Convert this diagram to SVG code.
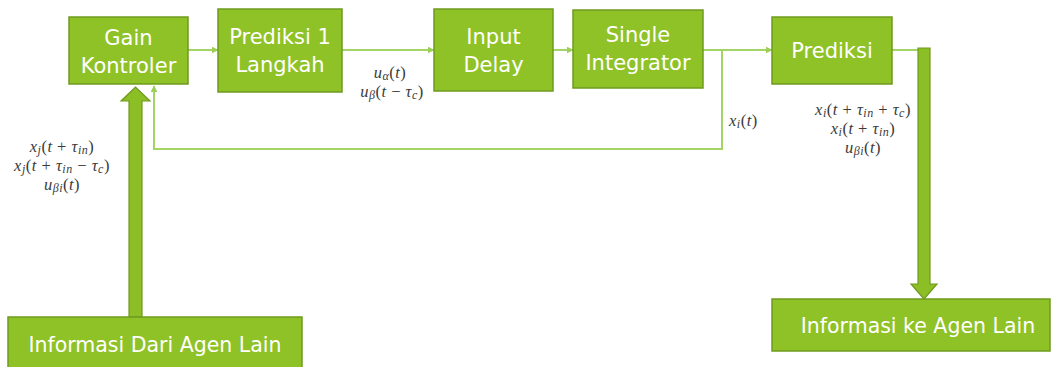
<svg xmlns="http://www.w3.org/2000/svg" width="1052" height="367" viewBox="0 0 1052 367">
  <defs>
    <marker id="tip" viewBox="0 0 10 10" refX="9" refY="5" markerWidth="7" markerHeight="7" markerUnits="userSpaceOnUse" orient="auto">
      <path d="M0,0 L10,5 L0,10 Z" fill="#9ccf55"/>
    </marker>
    <style>
      .box { fill: #8fc226; stroke: #6f9a1f; stroke-width: 1.5; }
      .lbl { font-family: "DejaVu Sans", "Liberation Sans", sans-serif; font-size: 21px; fill: #ffffff; text-anchor: middle; }
      .lbl2 { font-size: 20.5px; }
      .big { fill: #8cbf26; stroke: #6f9a1f; stroke-width: 1.2; }
      .wire { fill: none; stroke: #a3d466; stroke-width: 2; }
      .m { font-family: "Liberation Serif", "DejaVu Serif", serif; font-size: 16.5px; letter-spacing: 0.5px; fill: #3a3a3a; }
      .mc { text-anchor: middle; }
      .i { font-style: italic; }
      .s { font-size: 12px; font-style: italic; }
    </style>
  </defs>

  <!-- signal lines -->
  <g id="connectors">
    <path class="wire" d="M188,50 H218" marker-end="url(#tip)"/>
    <path class="wire" d="M342,50 H434" marker-end="url(#tip)"/>
    <path class="wire" d="M553,50 H573" marker-end="url(#tip)"/>
    <path class="wire" d="M703,50 H772" marker-end="url(#tip)"/>
    <path class="wire" d="M892,50 H918"/>
    <path class="wire" d="M722,50 V149 H154 V86" marker-end="url(#tip)"/>
    <!-- wide arrows to and from the other agents -->
    <path class="big" d="M129,317 V101 H121 L135.5,87 L150,101 H142 V317 Z"/>
    <path class="big" d="M918,48 H930 V284 H937 L924,299 L911,284 H918 Z"/>
  </g>

  <g id="gain-kontroler">
    <rect class="box" x="69" y="17" width="119" height="67"/>
    <text class="lbl" x="128.5" y="45">Gain</text>
    <text class="lbl" x="128.5" y="73">Kontroler</text>
  </g>

  <g id="prediksi-1-langkah">
    <rect class="box" x="218" y="9" width="124" height="83"/>
    <text class="lbl" x="280" y="44">Prediksi 1</text>
    <text class="lbl" x="280" y="72">Langkah</text>
  </g>

  <g id="input-delay">
    <rect class="box" x="434" y="9" width="119" height="82"/>
    <text class="lbl" x="493.5" y="44">Input</text>
    <text class="lbl" x="493.5" y="72">Delay</text>
  </g>

  <g id="single-integrator">
    <rect class="box" x="573" y="10" width="130" height="78"/>
    <text class="lbl" x="638" y="42">Single</text>
    <text class="lbl" x="638" y="70">Integrator</text>
  </g>

  <g id="prediksi">
    <rect class="box" x="772" y="17" width="120" height="67"/>
    <text class="lbl" x="832" y="58">Prediksi</text>
  </g>

  <g id="informasi-dari-agen-lain">
    <rect class="box" x="8" y="317" width="294" height="60"/>
    <text class="lbl lbl2" x="155" y="352">Informasi Dari Agen Lain</text>
  </g>

  <g id="informasi-ke-agen-lain">
    <rect class="box" x="772" y="299" width="278" height="52"/>
    <text class="lbl lbl2" x="918" y="333">Informasi ke Agen Lain</text>
  </g>

  <!-- signal labels -->
  <g id="labels">
    <text class="m mc" x="390" y="78"><tspan class="i">u</tspan><tspan class="s" dy="2">α</tspan><tspan dy="-2">(</tspan><tspan class="i">t</tspan>)</text>
    <text class="m mc" x="392" y="97"><tspan class="i">u</tspan><tspan class="s" dy="2">β</tspan><tspan dy="-2">(</tspan><tspan class="i">t</tspan> − <tspan class="i">τ</tspan><tspan class="s" dy="2">c</tspan><tspan dy="-2">)</tspan></text>

    <text class="m" x="729" y="126"><tspan class="i">x</tspan><tspan class="s" dy="2">i</tspan><tspan dy="-2">(</tspan><tspan class="i">t</tspan>)</text>

    <text class="m mc" x="863" y="115"><tspan class="i">x</tspan><tspan class="s" dy="2">i</tspan><tspan dy="-2">(</tspan><tspan class="i">t</tspan> + <tspan class="i">τ</tspan><tspan class="s" dy="2">in</tspan><tspan dy="-2"> + </tspan><tspan class="i">τ</tspan><tspan class="s" dy="2">c</tspan><tspan dy="-2">)</tspan></text>
    <text class="m mc" x="863" y="134"><tspan class="i">x</tspan><tspan class="s" dy="2">i</tspan><tspan dy="-2">(</tspan><tspan class="i">t</tspan> + <tspan class="i">τ</tspan><tspan class="s" dy="2">in</tspan><tspan dy="-2">)</tspan></text>
    <text class="m mc" x="863" y="153"><tspan class="i">u</tspan><tspan class="s" dy="2">βi</tspan><tspan dy="-2">(</tspan><tspan class="i">t</tspan>)</text>

    <text class="m mc" x="62" y="152"><tspan class="i">x</tspan><tspan class="s" dy="2">j</tspan><tspan dy="-2">(</tspan><tspan class="i">t</tspan> + <tspan class="i">τ</tspan><tspan class="s" dy="2">in</tspan><tspan dy="-2">)</tspan></text>
    <text class="m mc" x="62" y="171"><tspan class="i">x</tspan><tspan class="s" dy="2">j</tspan><tspan dy="-2">(</tspan><tspan class="i">t</tspan> + <tspan class="i">τ</tspan><tspan class="s" dy="2">in</tspan><tspan dy="-2"> − </tspan><tspan class="i">τ</tspan><tspan class="s" dy="2">c</tspan><tspan dy="-2">)</tspan></text>
    <text class="m mc" x="62" y="190"><tspan class="i">u</tspan><tspan class="s" dy="2">βi</tspan><tspan dy="-2">(</tspan><tspan class="i">t</tspan>)</text>
  </g>
</svg>
